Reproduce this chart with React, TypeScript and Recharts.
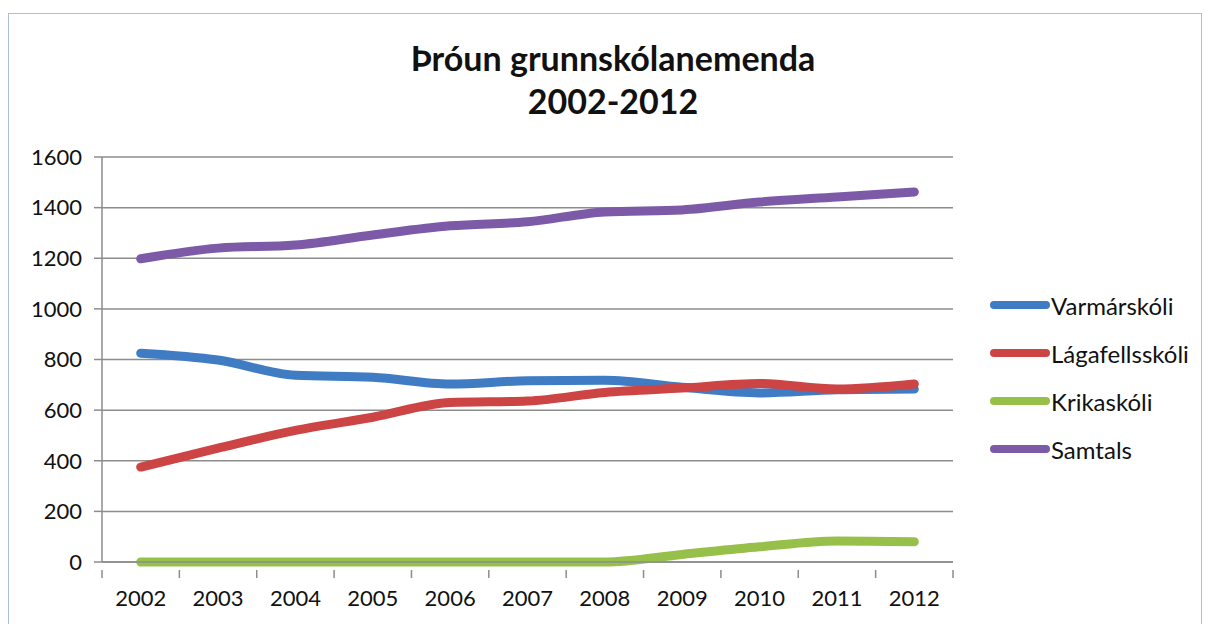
import { LineChart, Line, XAxis, YAxis, CartesianGrid } from "recharts";

const YEARS = ["2002", "2003", "2004", "2005", "2006", "2007", "2008", "2009", "2010", "2011", "2012"];
const VARMARSKOLI = [825, 798, 738, 730, 703, 716, 718, 690, 668, 680, 683];
const LAGAFELLSSKOLI = [375, 450, 520, 572, 630, 636, 670, 687, 705, 683, 703];
const KRIKASKOLI = [0, 0, 0, 0, 0, 0, 0, 30, 60, 83, 80];
const SAMTALS = [1198, 1240, 1252, 1292, 1328, 1344, 1383, 1391, 1422, 1442, 1462];
const Y_TICKS = [0, 200, 400, 600, 800, 1000, 1200, 1400, 1600];

const SERIES = [
  { key: "Varmárskóli", color: "#3f7cc4" },
  { key: "Lágafellsskóli", color: "#cc4444" },
  { key: "Krikaskóli", color: "#97c04a" },
  { key: "Samtals", color: "#7d5aa8" },
];

const data = YEARS.map((year, i) => ({
  year,
  "Varmárskóli": VARMARSKOLI[i],
  "Lágafellsskóli": LAGAFELLSSKOLI[i],
  "Krikaskóli": KRIKASKOLI[i],
  Samtals: SAMTALS[i],
}));

const W = 1208;
const H = 624;
const PLOT_LEFT = 102;
const PLOT_RIGHT = 953;
const PLOT_TOP = 157;
const PLOT_BOTTOM = 562;
const FONT = "Lato, 'Open Sans', sans-serif";
const HALF_BAND = (PLOT_RIGHT - PLOT_LEFT) / YEARS.length / 2;

// Excel puts the category ticks between the categories
function YearTick(props: any) {
  const { x, y, payload, index } = props;
  return (
    <g>
      <line x1={x - HALF_BAND} x2={x - HALF_BAND} y1={y} y2={y + 8} stroke="#8c8c8c" strokeWidth={1.5} />
      {index === YEARS.length - 1 && (
        <line x1={x + HALF_BAND} x2={x + HALF_BAND} y1={y} y2={y + 8} stroke="#8c8c8c" strokeWidth={1.5} />
      )}
      <text x={x} y={y + 36} textAnchor="middle" fontSize={22} fill="#111" fontFamily={FONT}>
        {payload.value}
      </text>
    </g>
  );
}

function LegendBox() {
  return (
    <div
      style={{
        position: "absolute",
        left: 990,
        top: 281,
        fontFamily: FONT,
        fontSize: 24,
        color: "#111",
      }}
    >
      {SERIES.map((s) => (
        <div key={s.key} style={{ display: "flex", alignItems: "center", height: 48 }}>
          <span
            style={{
              display: "inline-block",
              width: 60,
              height: 8,
              borderRadius: 4,
              background: s.color,
              marginRight: 1,
            }}
          />
          {s.key}
        </div>
      ))}
    </div>
  );
}

export default function App() {
  return (
    <div style={{ position: "fixed", left: 0, top: 0, width: W, height: H, background: "#fff" }}>
      <div
        style={{
          position: "absolute",
          left: 8,
          top: 13,
          width: 1194,
          height: 620,
          border: "1.5px solid #a9bfdc",
          boxSizing: "border-box",
        }}
      />
      <div
        style={{
          position: "absolute",
          left: 0,
          top: 36,
          width: 1226,
          textAlign: "center",
          fontFamily: FONT,
          fontWeight: 700,
          fontSize: 34,
          lineHeight: "43px",
          color: "#111",
        }}
      >
        Þróun grunnskólanemenda
        <br />
        2002-2012
      </div>
      <LineChart
        width={W}
        height={H}
        data={data}
        margin={{ top: PLOT_TOP, right: W - PLOT_RIGHT, bottom: 0, left: 0 }}
        style={{ position: "absolute", left: 0, top: 0 }}
      >
        <CartesianGrid vertical={false} stroke="#8c8c8c" strokeWidth={1.5} />
        <XAxis
          dataKey="year"
          height={H - PLOT_BOTTOM}
          padding={{ left: HALF_BAND, right: HALF_BAND }}
          axisLine={{ stroke: "#8c8c8c", strokeWidth: 1.5 }}
          tickLine={false}
          tick={<YearTick />}
          interval={0}
        />
        <YAxis
          width={PLOT_LEFT}
          domain={[0, 1600]}
          ticks={Y_TICKS}
          interval={0}
          axisLine={{ stroke: "#8c8c8c", strokeWidth: 1.5 }}
          tickLine={{ stroke: "#8c8c8c", strokeWidth: 1.5 }}
          tickSize={8}
          tickMargin={12}
          tick={{ fontSize: 22, fill: "#111", fontFamily: FONT }}
        />
        {SERIES.map((s) => (
          <Line
            key={s.key}
            type="monotone"
            dataKey={s.key}
            stroke={s.color}
            strokeWidth={9}
            strokeLinecap="round"
            dot={false}
            activeDot={false}
            isAnimationActive={false}
          />
        ))}
      </LineChart>
      <LegendBox />
    </div>
  );
}
